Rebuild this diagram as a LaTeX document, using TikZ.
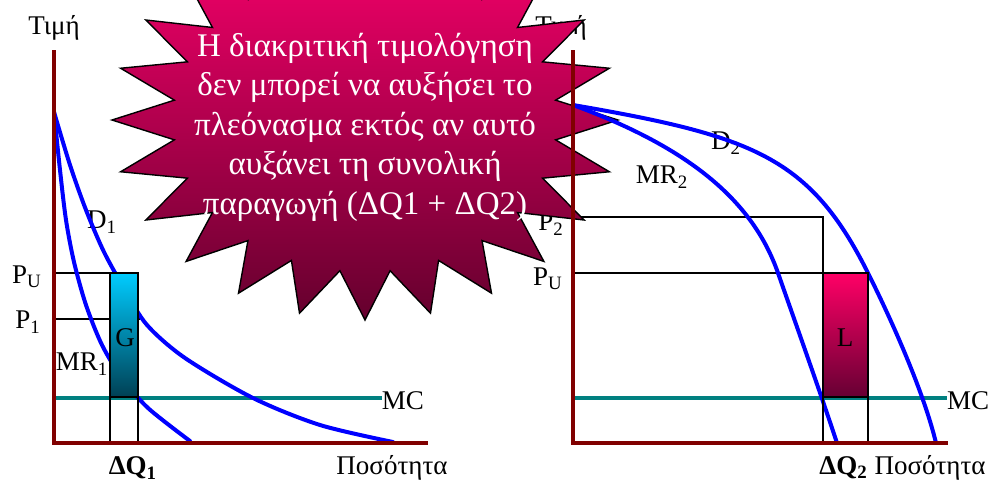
\documentclass[tikz,border=0pt]{standalone}
\usepackage{fontspec}
\setmainfont{Liberation Serif}
\definecolor{axisred}{RGB}{128, 0, 0}
\definecolor{curveblue}{RGB}{0, 0, 255}
\definecolor{mcteal}{RGB}{0, 128, 128}
\definecolor{gtop}{RGB}{0, 204, 255}
\definecolor{gbottom}{RGB}{0, 64, 84}
\definecolor{ltop}{RGB}{255, 0, 102}
\definecolor{lbottom}{RGB}{102, 0, 51}
\definecolor{starpink}{RGB}{255, 0, 110}
\definecolor{starwine}{RGB}{100, 0, 45}

\begin{document}
\begin{tikzpicture}[
    x=0.5pt, y=-0.5pt,
    font=\fontsize{13.5}{16}\selectfont,
    axis/.style={draw=axisred, line width=2pt},
    demand/.style={draw=curveblue, line width=2pt, line cap=round},
    mcline/.style={draw=mcteal, line width=2.4pt},
    guide/.style={draw=black, line width=0.7pt},
    gbox/.style={guide, top color=gtop, bottom color=gbottom},
    lbox/.style={guide, top color=ltop, bottom color=lbottom},
    burst/.style={draw=black, line width=0.7pt, top color=starpink, bottom color=starwine},
    lbl/.style={inner sep=1pt}
]
\useasboundingbox[fill=white] (0,0) rectangle (991,483);

% =========== RIGHT: labels and guides (under the burst) ===========
\node[lbl] (price2) at (561,28)  {Τιμή};
\node[lbl] (ptwo)   at (551,224) {P\textsubscript{2}};
\node[lbl] (pu2)    at (548,279) {P\textsubscript{U}};

\draw[guide] (573,217) -- (823,217) -- (823,443);
\draw[guide] (573,273) -- (868,273) -- (868,443);

% =========== BURST with the note ===========
\path[burst] plot[samples=49, domain=0:48, variable=\k]
    ({365+253*(1-0.24*mod(\k,2))*cos(7.5*\k)}, {120+200*(1-0.24*mod(\k,2))*sin(7.5*\k)}) -- cycle;
\node[align=center, text=white, font=\fontsize{16.5}{19.75}\selectfont] (note) at (365,127)
    {Η διακριτική τιμολόγηση\\δεν μπορεί να αυξήσει το\\πλεόνασμα εκτός αν αυτό\\αυξάνει τη συνολική\\παραγωγή (ΔQ1 + ΔQ2)};

% =========== LEFT market ===========
\node[lbl] (price1) at (54,28)   {Τιμή};
\node[lbl] (pu1)    at (27,277)  {P\textsubscript{U}};
\node[lbl] (pone)   at (28,322)  {P\textsubscript{1}};
\node[lbl] (dlab1)  at (102,222) {D\textsubscript{1}};
\node[lbl] (mrlab1) at (82,364)  {MR\textsubscript{1}};
\node[lbl] (mc1)    at (403,401) {MC};
\node[lbl] (dq1)    at (133,468) {\textbf{ΔQ\textsubscript{1}}};
\node[lbl] (qty1)   at (392,468) {Ποσότητα};

\draw[guide] (54,273) -- (110,273);
\draw[guide] (54,319) -- (140,319);
\draw[mcline] (54,398) -- (382,398);
\draw[demand] plot[smooth, tension=0.5] coordinates
    {(54,112) (60,170) (66,220) (74,262) (86,305) (102,345) (122,378) (148,408) (190,441)};
\draw[demand] plot[smooth, tension=0.5] coordinates
    {(54,112) (70,165) (86,210) (104,252) (125,290) (147,325) (185,358) (253,398) (320,425) (393,442)};
\draw[gbox] (110,273) rectangle (138,397);
\node[lbl] (gain) at (125,338) {G};
\draw[guide] (110,397) -- (110,443);
\draw[guide] (138,397) -- (138,443);
\draw[axis] (54,50) -- (54,443) -- (428,443);

% =========== RIGHT market (lines over the burst) ===========
\node[lbl] (dlab2)  at (726,143) {D\textsubscript{2}};
\node[lbl] (mrlab2) at (662,177) {MR\textsubscript{2}};
\node[lbl] (mc2)    at (968,401) {MC};
\node[lbl, anchor=east] (qty2) at (988,468) {\textbf{ΔQ\textsubscript{2}} Ποσότητα};

\draw[mcline] (573,398) -- (947,398);
\draw[demand] (573,105) .. controls (693,149) and (753.5,203) .. (778,273)
                        .. controls (795.5,323) and (820.5,393) .. (837,443);
\draw[demand] (573,105) .. controls (753,136) and (810,157) .. (868,273)
                        .. controls (893,323) and (924,393) .. (936,443);
\draw[lbox] (823,273) rectangle (868,397);
\node[lbl] (loss) at (845,338) {L};
\draw[guide] (823,397) -- (823,443);
\draw[guide] (868,397) -- (868,443);
\draw[axis] (573,50) -- (573,443) -- (948,443);

\end{tikzpicture}
\end{document}
